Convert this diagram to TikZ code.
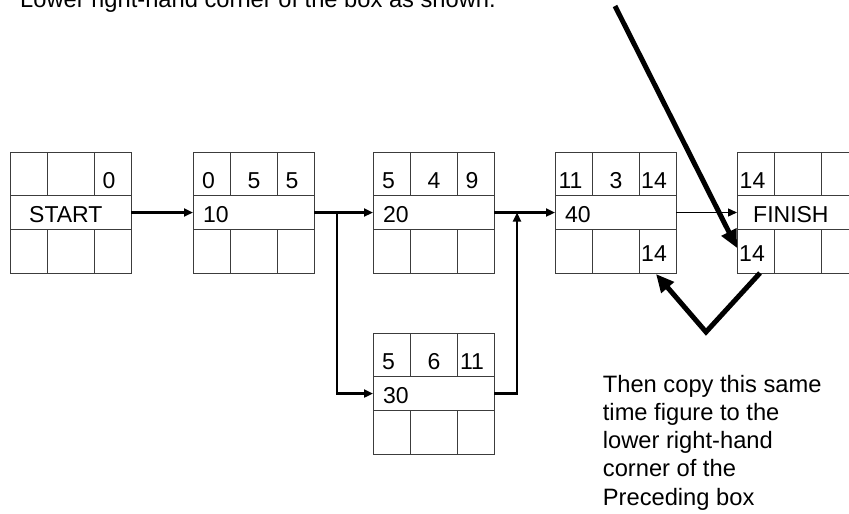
\documentclass[tikz,border=0pt]{standalone}
\usepackage{fontspec}
\setmainfont{Liberation Sans}
\usetikzlibrary{arrows.meta,calc}
\definecolor{cellcol}{RGB}{60,60,60}
\newcommand{\numfont}{\fontsize{23}{27}\selectfont}
\newcommand{\notefont}{\fontsize{23.7}{28.3}\selectfont}
% one activity box: name, left, top, ES, duration, EF, label, label indent
\newcommand{\actbox}[8]{%
  \begin{scope}[shift={(#2,#3)}]
    \node[abox] (#1) at (60.5,60.5) {};
    \draw[cell] (0,43)--(121,43) (0,77)--(121,77)
      (37.5,0)--(37.5,43) (84,0)--(84,43)
      (37.5,77)--(37.5,121) (84,77)--(84,121);
    \node[num] (#1-es) at (15.5,36) {#4};
    \node[num] (#1-d) at (61,36) {#5};
    \node[num] (#1-ef) at (99,36) {#6};
    \node[num,anchor=base west] (#1-lbl) at (#8,70.5) {#7};
  \end{scope}}

\begin{document}
\begin{tikzpicture}[x=1pt,y=-1pt,
   abox/.style={draw=cellcol,line width=1pt,minimum width=121pt,
     minimum height=121pt,inner sep=0pt,outer sep=0pt},
   cell/.style={cellcol,line width=1pt},
   num/.style={anchor=base,inner sep=0pt,font=\numfont},
   link/.style={line width=2.3pt,-{Triangle[length=9pt,width=8pt]}},
   bigarrow/.style={line width=5pt,-{Triangle[length=18pt,width=16pt]}},
   note/.style={inner sep=0pt,font=\notefont,align=left}]
  \clip (0,0) rectangle (849,514);
  % ---------- activity boxes ----------
  \actbox{start}{10}{152}{}{}{0}{START}{19}
  \actbox{a10}{193}{152}{0}{5}{5}{10}{10}
  \actbox{a20}{373}{152}{5}{4}{9}{20}{10}
  \actbox{a40}{555}{152}{11}{3}{14}{40}{10}
  \actbox{fin}{737}{152}{14}{}{}{FINISH}{16}
  \actbox{a30}{373}{333}{5}{6}{11}{30}{10}
  \node[num] (a40-lf) at (654,261.7) {14};
  \node[num] (fin-lf) at (752,261.7) {14};
  % ---------- connectors ----------
  \coordinate (split) at ($(a10.east)+(23,0)$);
  \coordinate (join) at ($(a20.east)+(23,0)$);
  \draw[link] (start.east) -- (a10.west);
  \draw[link] (a10.east) -- (a20.west);
  \draw[link] (split) |- (a30.west);
  \draw[link] (a30.east) -| (join);
  \draw[link] (a20.east) -- (a40.west);
  \draw[line width=1.4pt,-{Triangle[length=9pt,width=8pt]}] (a40.east) -- (fin.west);
  % ---------- notes ----------
  \node[note,anchor=base west] (topnote) at (20,7.5)
    {Lower right-hand corner of the box as shown.};
  \node[note,anchor=north west] (copynote) at (602.7,374.7)
    {Then copy this same\\time figure to the\\lower right-hand\\corner of the\\Preceding box};
  \coordinate (hint) at (615,6);
  \coordinate (vee) at (706,332);
  \draw[bigarrow] (hint) -- ($(fin.south west)+(0,-25)$);
  \draw[bigarrow] ($(fin.south west)+(23,0)$) -- (vee) -- ($(a40.south east)+(-20,1)$);
\end{tikzpicture}
\end{document}
